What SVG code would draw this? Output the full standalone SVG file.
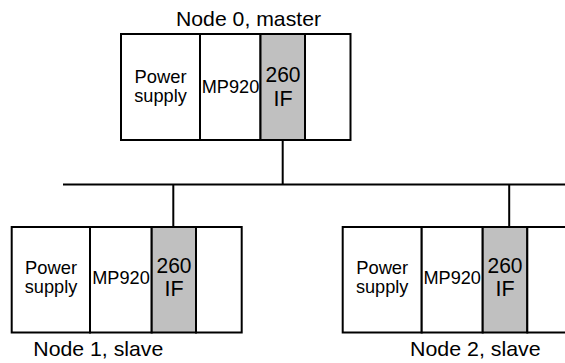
<svg xmlns="http://www.w3.org/2000/svg" width="565" height="363" viewBox="0 0 565 363">
<style>
text{font-family:"Liberation Sans",Arial,sans-serif;fill:#000;text-anchor:middle}
.box{fill:#fff;stroke:#000;stroke-width:2}
.if{fill:#c0c0c0;stroke:#000;stroke-width:2}
.t{font-size:19px}
.b{font-size:21.5px}
.lbl{font-size:21px;text-anchor:start}
.wire{stroke:#000;stroke-width:2;fill:none}
</style>
<g id="connectors">
<line class="wire" x1="63" y1="184.5" x2="565" y2="184.5"/>
<line class="wire" x1="282.7" y1="140" x2="282.7" y2="184.5"/>
<line class="wire" x1="173.3" y1="184.5" x2="173.3" y2="227"/>
<line class="wire" x1="509.2" y1="184.5" x2="509.2" y2="227"/>
</g>
<g id="node0">
<text class="lbl" x="176" y="26" textLength="145" lengthAdjust="spacingAndGlyphs">Node 0, master</text>
<rect class="box" x="121" y="34" width="79" height="106"/>
<rect class="box" x="200" y="34" width="60.5" height="106"/>
<rect class="if" x="260.5" y="34" width="44.5" height="106"/>
<rect class="box" x="305" y="34" width="45.5" height="106"/>
<text class="t" x="160.5" y="82.7" textLength="52" lengthAdjust="spacingAndGlyphs">Power</text>
<text class="t" x="160.5" y="101.7" textLength="52.5" lengthAdjust="spacingAndGlyphs">supply</text>
<text class="t" x="230.5" y="93" textLength="57.5" lengthAdjust="spacingAndGlyphs">MP920</text>
<text class="b" x="283" y="82" textLength="35" lengthAdjust="spacingAndGlyphs">260</text>
<text class="b" x="283" y="106">IF</text>
</g>
<g id="node1">
<rect class="box" x="11.7" y="227" width="78.3" height="105.5"/>
<rect class="box" x="90" y="227" width="61.7" height="105.5"/>
<rect class="if" x="151.7" y="227" width="44.3" height="105.5"/>
<rect class="box" x="196" y="227" width="45.7" height="105.5"/>
<text class="t" x="51" y="273.7" textLength="52" lengthAdjust="spacingAndGlyphs">Power</text>
<text class="t" x="51" y="292.7" textLength="52.5" lengthAdjust="spacingAndGlyphs">supply</text>
<text class="t" x="121" y="284" textLength="57.5" lengthAdjust="spacingAndGlyphs">MP920</text>
<text class="b" x="174" y="272.5" textLength="35" lengthAdjust="spacingAndGlyphs">260</text>
<text class="b" x="174" y="296">IF</text>
<text class="lbl" x="33.3" y="355.5" textLength="130" lengthAdjust="spacingAndGlyphs">Node 1, slave</text>
</g>
<g id="node2">
<rect class="box" x="342.7" y="227" width="79" height="105.5"/>
<rect class="box" x="421.7" y="227" width="61" height="105.5"/>
<rect class="if" x="482.7" y="227" width="44.6" height="105.5"/>
<rect class="box" x="527.3" y="227" width="45.7" height="105.5"/>
<text class="t" x="382.2" y="273.7" textLength="52" lengthAdjust="spacingAndGlyphs">Power</text>
<text class="t" x="382.2" y="292.7" textLength="52.5" lengthAdjust="spacingAndGlyphs">supply</text>
<text class="t" x="452.2" y="284" textLength="57.5" lengthAdjust="spacingAndGlyphs">MP920</text>
<text class="b" x="505" y="272.5" textLength="35" lengthAdjust="spacingAndGlyphs">260</text>
<text class="b" x="505" y="296">IF</text>
<text class="lbl" x="410" y="355.5" textLength="130.7" lengthAdjust="spacingAndGlyphs">Node 2, slave</text>
</g>
</svg>
